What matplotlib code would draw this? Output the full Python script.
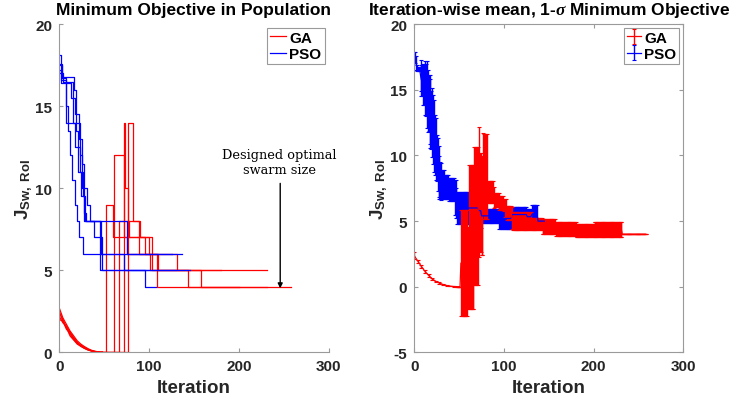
import numpy as np
import matplotlib.pyplot as plt
from matplotlib.lines import Line2D

# GA runs: smooth start (sampled), then step changes (start iteration, value), last iteration
ga_decay_it = [0, 4, 8, 12, 16, 20, 24, 28, 32, 36, 40, 44, 48]
ga_decay = [
    [2.7, 2.1, 1.7, 1.3, 1.0, 0.7, 0.5, 0.35, 0.22, 0.12, 0.06, 0.02, 0.0],
    [2.4, 2.0, 1.5, 1.1, 0.8, 0.55, 0.4, 0.25, 0.15, 0.08, 0.04, 0.01, 0.0],
    [2.2, 1.8, 1.6, 1.2, 0.85, 0.6, 0.42, 0.3, 0.18, 0.1, 0.05, 0.02, 0.0],
    [2.5, 1.9, 1.4, 1.2, 0.9, 0.62, 0.38, 0.26, 0.16, 0.09, 0.03, 0.01, 0.0],
    [2.0, 1.9, 1.5, 1.0, 0.75, 0.5, 0.36, 0.24, 0.14, 0.07, 0.03, 0.01, 0.0],
]
ga_steps = [
    [(48, 0), (52, 9), (60, 7), (75, 6), (131, 5)],
    [(48, 0), (61, 12), (72, 7), (103, 5), (143, 4)],
    [(48, 0), (67, 8), (78, 7), (95, 6), (109, 4)],
    [(48, 0), (72, 14), (73, 10), (77, 8), (89, 6), (101, 5), (158, 4)],
    [(48, 0), (77, 14), (82, 8), (90, 7), (100, 6), (110, 5)],
]
ga_end = [231, 200, 258, 231, 180]

# PSO runs: step changes (start iteration, value), last iteration
pso_steps = [
    [(0, 17.2), (2, 16.6), (7, 14.0), (23, 12.0), (25, 10.0), (27, 8.0), (45, 5.0), (95, 4.0)],
    [(0, 18.1), (2, 17.0), (4, 16.5), (15, 15.5), (17, 14.5), (19, 13.5), (21, 12.5),
     (23, 11.0), (26, 9.5), (29, 8.0), (75, 6.0)],
    [(0, 17.5), (3, 16.7), (8, 15.0), (10, 13.5), (12, 12.0), (14, 10.5), (17, 9.0),
     (20, 8.0), (22, 7.0), (26, 6.0)],
    [(0, 17.0), (2, 16.4), (13, 15.5), (15, 14.0), (18, 12.5), (21, 11.0), (24, 9.5),
     (27, 8.5), (30, 8.0), (39, 7.0), (48, 5.0)],
    [(0, 17.6), (3, 16.8), (16, 16.0), (19, 14.5), (22, 13.0), (25, 11.5), (28, 10.0),
     (31, 9.0), (34, 8.0), (47, 6.0), (72, 5.0)],
]
pso_end = [108, 125, 137, 145, 130]

x_ticks = [0, 100, 200, 300]
left_yticks = [0, 5, 10, 15, 20]
right_yticks = [-5, 0, 5, 10, 15, 20]

plt.rcParams['font.family'] = ['Liberation Sans', 'DejaVu Sans']
plt.rcParams['font.weight'] = 'bold'
plt.rcParams['axes.unicode_minus'] = False
plt.rcParams['mathtext.fontset'] = 'custom'
plt.rcParams['mathtext.rm'] = 'Liberation Sans:bold'
plt.rcParams['mathtext.bf'] = 'Liberation Sans:bold'
plt.rcParams['mathtext.it'] = 'Liberation Serif:italic'

AX_GRAY = '#9a9a9a'
TXT = '#262626'


def expand(steps, end):
    # hold each step value until the next change
    it = np.arange(steps[0][0], end + 1)
    val = np.zeros(len(it))
    for s, v in steps:
        val[it >= s] = v
    return it, val


def value_at(steps, t):
    v = steps[0][1]
    for s, vv in steps:
        if t >= s:
            v = vv
    return v


def stats(points):
    m = np.array([np.mean(p) for p in points])
    s = np.array([np.std(p, ddof=1) if len(p) > 1 else 0.0 for p in points])
    return m, s


def style_axes(ax, yticks, box):
    ax.set_xlim(0, 300)
    ax.set_xticks(x_ticks)
    ax.set_yticks(yticks)
    ax.set_ylim(yticks[0], yticks[-1])
    for side in ['left', 'bottom', 'top', 'right']:
        ax.spines[side].set_color(AX_GRAY)
        ax.spines[side].set_linewidth(0.8)
    if not box:
        ax.spines['top'].set_visible(False)
        ax.spines['right'].set_visible(False)
    ax.tick_params(direction='in', length=3, width=0.8, color=AX_GRAY,
                   labelsize=11, labelcolor=TXT, pad=5,
                   top=box, right=box)
    for lab in ax.get_xticklabels() + ax.get_yticklabels():
        lab.set_fontweight('bold')
    ax.set_xlabel('Iteration', fontsize=13.5, fontweight='bold', color=TXT, labelpad=4)
    ax.set_ylabel(r'$\mathrm{J}_{\mathrm{Sw,\ RoI}}$', fontsize=13.5, color=TXT, labelpad=0)


fig = plt.figure(figsize=(7.41, 4.06), dpi=100)
ax1 = fig.add_axes([0.080, 0.1298, 0.3636, 0.8079])
ax2 = fig.add_axes([0.5591, 0.1298, 0.3630, 0.8079])

# left: every run
for k in range(len(ga_steps)):
    ax1.plot(ga_decay_it, ga_decay[k], color='r', lw=0.9)
    it, val = expand(ga_steps[k], ga_end[k])
    ax1.plot(it, val, color='r', lw=0.9, drawstyle='steps-post')
for k in range(len(pso_steps)):
    it, val = expand(pso_steps[k], pso_end[k])
    ax1.plot(it, val, color='b', lw=0.9, drawstyle='steps-post')

style_axes(ax1, left_yticks, box=False)
ax1.set_title('Minimum Objective in Population', fontsize=12.5, fontweight='bold', color='k', pad=7.5)

leg1 = ax1.legend([Line2D([], [], color='r', lw=0.9), Line2D([], [], color='b', lw=0.9)],
                  ['GA', 'PSO'], loc='upper right', prop={'weight': 'bold', 'size': 11},
                  fancybox=False, framealpha=1, edgecolor=AX_GRAY, handlelength=1.1,
                  handletextpad=0.2, borderpad=0.2, labelspacing=0.15,
                  bbox_to_anchor=(0.985, 0.99), borderaxespad=0)
leg1.get_frame().set_linewidth(0.8)

ax1.annotate('', xy=(246, 3.9), xytext=(246, 10.3),
             arrowprops=dict(arrowstyle='-|>', color='k', lw=1.0, mutation_scale=7,
                             shrinkA=0, shrinkB=0))
ax1.text(245, 11.6, 'Designed optimal\nswarm size', family='DejaVu Serif', fontweight='normal',
         fontsize=9.3, ha='center', va='center', linespacing=1.2, color='k')

# right: mean and 1-sigma over runs at each iteration
ga_t = list(ga_decay_it) + list(range(49, max(ga_end) + 1))
ga_pts = []
for j, t in enumerate(ga_t):
    if j < len(ga_decay_it):
        ga_pts.append([d[j] for d in ga_decay])
    else:
        ga_pts.append([value_at(ga_steps[k], t) for k in range(len(ga_steps)) if t <= ga_end[k]])
ga_mean, ga_std = stats(ga_pts)

pso_t = list(range(0, max(pso_end) + 1))
pso_pts = [[value_at(pso_steps[k], t) for k in range(len(pso_steps)) if t <= pso_end[k]]
           for t in pso_t]
pso_mean, pso_std = stats(pso_pts)

h_pso = ax2.errorbar(pso_t, pso_mean, yerr=pso_std, color='b', ecolor='b', lw=0.9,
                     elinewidth=1.0, capsize=1.5, capthick=0.8)
h_ga = ax2.errorbar(ga_t, ga_mean, yerr=ga_std, color='r', ecolor='r', lw=0.9,
                    elinewidth=1.0, capsize=1.5, capthick=0.8)

style_axes(ax2, right_yticks, box=True)
ax2.set_title('Iteration-wise mean, 1-$\\sigma$ Minimum Objective', fontsize=12.5,
              fontweight='bold', color='k', pad=7.5)
leg2 = ax2.legend([h_ga, h_pso], ['GA', 'PSO'], loc='upper right',
                  prop={'weight': 'bold', 'size': 11}, fancybox=False, framealpha=1,
                  edgecolor=AX_GRAY, handlelength=0.9, handletextpad=0.2, borderpad=0.2,
                  labelspacing=0.15, bbox_to_anchor=(0.985, 0.99), borderaxespad=0)
leg2.get_frame().set_linewidth(0.8)

fig.savefig('out.png', dpi=100)
